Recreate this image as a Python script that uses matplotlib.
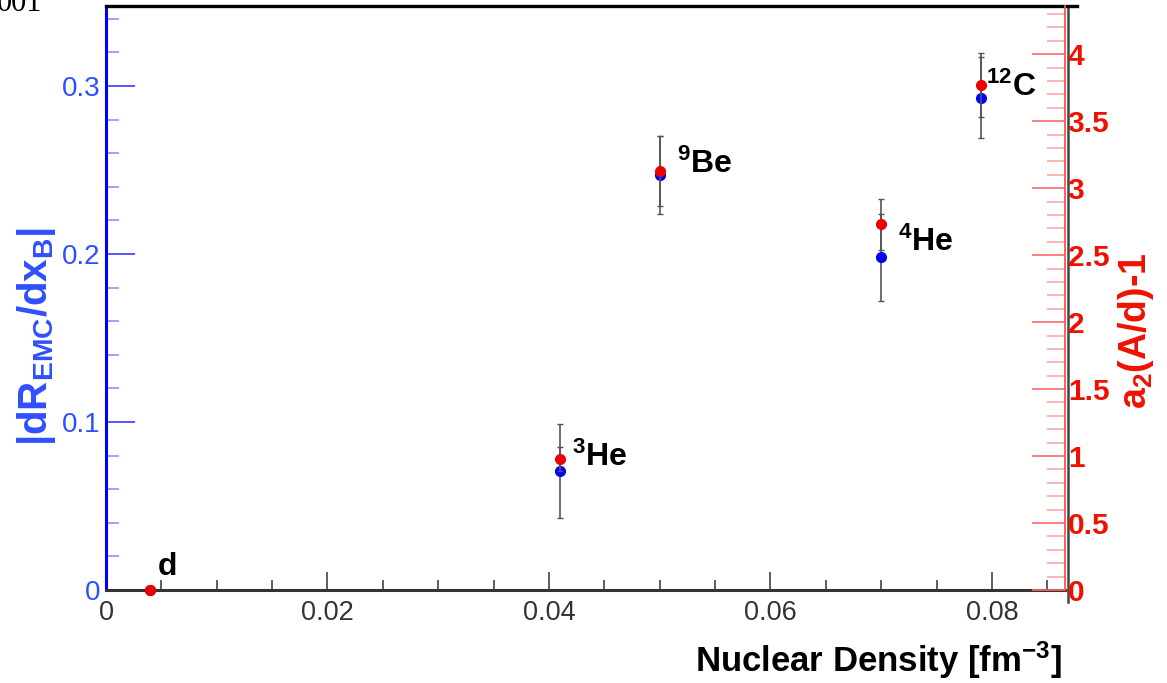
import matplotlib
matplotlib.use("Agg")
import matplotlib.pyplot as plt
import matplotlib.ticker as mticker
from matplotlib import font_manager
import numpy as np

# ── Fonts ──
_names = {f.name for f in font_manager.fontManager.ttflist}
NARROW = "Liberation Sans Narrow" if "Liberation Sans Narrow" in _names else "Liberation Sans"

plt.rcParams.update({
    "font.family": ["Liberation Sans", "DejaVu Sans"],
    "mathtext.fontset": "custom",
    "mathtext.rm": NARROW,
    "mathtext.bf": f"{NARROW}:bold",
    "mathtext.it": f"{NARROW}:italic",
})

BLUE = "#0000ff"
BLUE_TXT = "#2f4fff"
RED = "#ee1100"
DARK = "#333333"
ERR = "#555555"

# ── Data ──
nuclei = ["d", "$\\mathbf{^{3}}$He", "$\\mathbf{^{9}}$Be", "$\\mathbf{^{4}}$He", "$\\mathbf{^{12}}$C"]
density = np.array([0.004, 0.041, 0.050, 0.070, 0.079])
emc_slope = np.array([0.0, 0.071, 0.247, 0.198, 0.293])
emc_err = np.array([0.0, 0.028, 0.023, 0.026, 0.024])
a2_ratio = np.array([0.0, 0.98, 3.13, 2.73, 3.77])
a2_err = np.array([0.0, 0.09, 0.26, 0.19, 0.24])

# label anchors (data coords on the EMC axis)
label_x = [0.0047, 0.0421, 0.0516, 0.0715, 0.0795]
label_y = [0.009, 0.074, 0.248, 0.202, 0.294]

fig = plt.figure(figsize=(11.67, 6.83), dpi=100)
ax = fig.add_axes([106 / 1167, 1 - 590 / 683, 959 / 1167, 584 / 683])
ax2 = ax.twinx()

# EMC slope (left axis)
ax.errorbar(density, emc_slope, yerr=emc_err, fmt="o", color=BLUE, ms=7,
            ecolor=ERR, elinewidth=1.2, capsize=2, capthick=1, clip_on=False, zorder=3)
# a2 ratio (right axis)
ax2.errorbar(density, a2_ratio, yerr=a2_err, fmt="o", color="#ee0000", ms=7,
             ecolor=ERR, elinewidth=1.2, capsize=2, capthick=1, clip_on=False, zorder=3)

for name, lx, ly in zip(nuclei, label_x, label_y):
    ax.text(lx, ly, name, fontsize=23, fontweight="bold", family=NARROW,
            ha="left", va="baseline", color="black", zorder=5)

ax.set_xlim(0, 0.0866)
ax.set_ylim(0, 0.3476)
ax2.set_ylim(0, 4.36)

# ── x axis ──
ax.set_xticks([0, 0.02, 0.04, 0.06, 0.08])
ax.set_xticklabels(["0", "0.02", "0.04", "0.06", "0.08"])
ax.xaxis.set_minor_locator(mticker.MultipleLocator(0.005))
ax.tick_params(axis="x", which="both", direction="in", color=DARK, width=1.1,
               labelsize=19.5, labelcolor=DARK, pad=7)
ax.tick_params(axis="x", which="major", length=13)
ax.tick_params(axis="x", which="minor", length=7)

# ── left axis ──
ax.set_yticks([0, 0.1, 0.2, 0.3])
ax.set_yticklabels(["0", "0.1", "0.2", "0.3"])
ax.yaxis.set_minor_locator(mticker.MultipleLocator(0.02))
ax.tick_params(axis="y", which="both", direction="in", width=1.2,
               labelsize=20, labelcolor=BLUE_TXT, pad=4)
ax.tick_params(axis="y", which="major", length=21, color="#3a3aff")
ax.tick_params(axis="y", which="minor", length=9.5, color="#9090ff")

# ── right axis ──
r_ticks = np.arange(0, 4.01, 0.5)
ax2.set_yticks(r_ticks)
ax2.set_yticklabels([f"{t:g}" for t in r_ticks])
ax2.yaxis.set_minor_locator(mticker.MultipleLocator(0.1))
ax2.tick_params(axis="y", which="both", direction="in", width=1.2,
                labelsize=21.5, labelcolor=RED, pad=2)
ax2.tick_params(axis="y", which="major", length=24, color="#ff6a6a")
ax2.tick_params(axis="y", which="minor", length=13, color="#ffaaaa")
for lbl in ax2.get_yticklabels():
    lbl.set_fontweight("bold")

# ── spines ──
for s in ["top", "bottom", "left", "right"]:
    ax2.spines[s].set_visible(False)
ax2.spines["right"].set_visible(True)
ax2.spines["right"].set_color("#ff5050")
ax2.spines["right"].set_linewidth(1.3)

ax.spines["left"].set_color(BLUE)
ax.spines["left"].set_linewidth(2.2)
ax.spines["bottom"].set_color(DARK)
ax.spines["bottom"].set_linewidth(2.2)
ax.spines["top"].set_color("black")
ax.spines["top"].set_linewidth(2.4)
ax.spines["top"].set_bounds(0, 0.0877)
ax.spines["right"].set_color("#444444")
ax.spines["right"].set_linewidth(1.8)
ax.spines["right"].set_position(("outward", 2))
ax.spines["right"].set_bounds(-0.007, 0.3476)

# ── axis titles ──
ax.set_xlabel("Nuclear Density [fm$^{\\mathbf{-3}}$]", fontsize=25, fontweight="bold",
              family=NARROW, loc="right")
ax.xaxis.set_label_coords(0.997, -0.085)

ax.set_ylabel("|dR$_{\\mathbf{EMC}}$/dx$_{\\mathbf{B}}$|", fontsize=29, fontweight="bold",
              family=NARROW, color=BLUE_TXT, va="center")
ax.yaxis.set_label_coords(-0.072, 0.435)

ax2.set_ylabel("a$_{\\mathbf{2}}$(A/d)-1", fontsize=27, fontweight="bold",
               family=NARROW, color=RED, rotation=90, va="center")
ax2.yaxis.set_label_coords(1.074, 0.4435)

# page number peeking in at the top edge
fig.text(-3 / 1167, 1 - 11 / 683, "001", fontsize=22, family="Liberation Serif",
         ha="left", va="baseline", color="black")

fig.savefig("out.png", dpi=100)
